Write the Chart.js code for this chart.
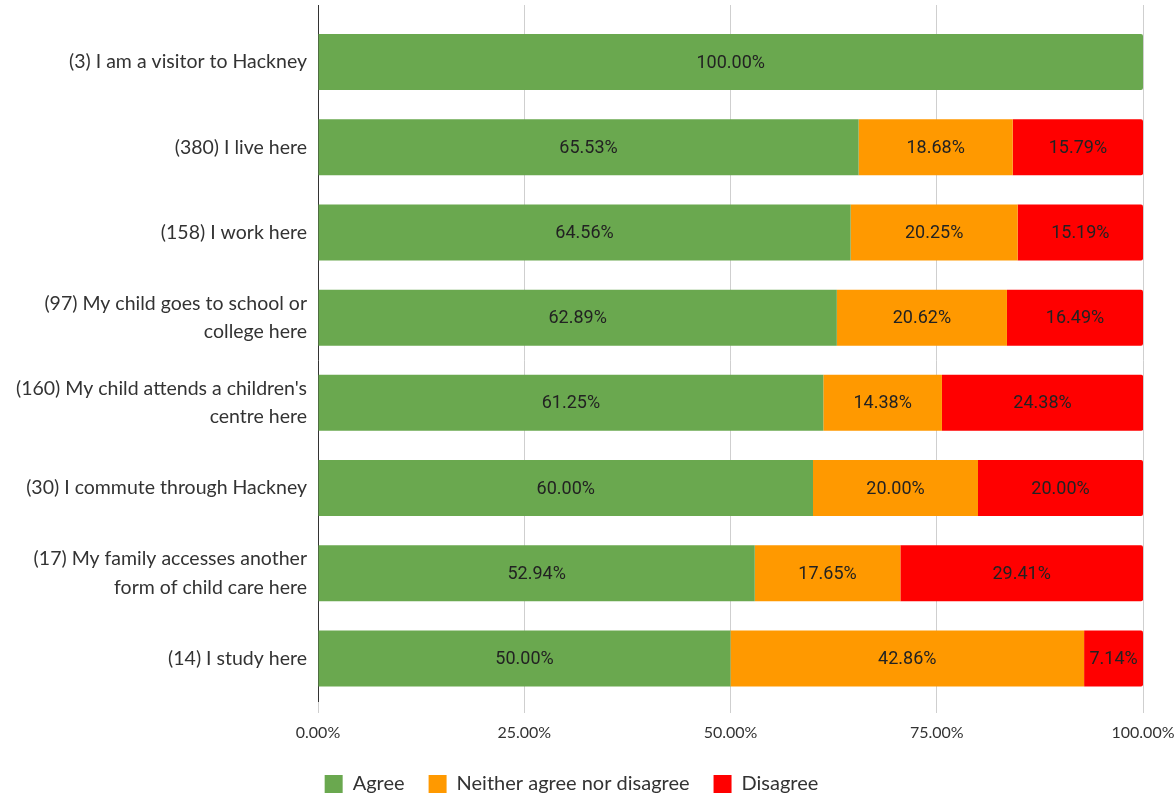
<!DOCTYPE html>
<html>
<head>
<meta charset="utf-8">
<script src="https://cdn.jsdelivr.net/npm/chart.js@4.4.1/dist/chart.umd.min.js"></script>
<style>
  html, body { margin: 0; padding: 0; background: #fff; }
  #wrap { width: 1175px; height: 795px; }
</style>
</head>
<body>
<div id="wrap"><canvas id="chart" width="1175" height="795"></canvas></div>
<script>
// --- DATA ---
const categories = [
  '(3) I am a visitor to Hackney',
  '(380) I live here',
  '(158) I work here',
  ['(97) My child goes to school or', 'college here'],
  ["(160) My child attends a children's", 'centre here'],
  '(30) I commute through Hackney',
  ['(17) My family accesses another', 'form of child care here'],
  '(14) I study here'
];
const agree    = [100.00, 65.53, 64.56, 62.89, 61.25, 60.00, 52.94, 50.00];
const neither  = [null,   18.68, 20.25, 20.62, 14.38, 20.00, 17.65, 42.86];
const disagree = [null,   15.79, 15.19, 16.49, 24.38, 20.00, 29.41, 7.14];
const xTicks = [0, 25, 50, 75, 100];

const GRID = '#cfcfcf';
const AXIS = '#333333';

// value text centred in each bar segment
const barLabels = {
  id: 'barLabels',
  afterDatasetsDraw(chart) {
    const ctx = chart.ctx;
    ctx.save();
    ctx.font = '18px Roboto';
    ctx.fillStyle = '#222';
    ctx.textAlign = 'center';
    ctx.textBaseline = 'middle';
    chart.data.datasets.forEach((ds, i) => {
      chart.getDatasetMeta(i).data.forEach((bar, j) => {
        const v = ds.data[j];
        if (v == null) return;
        ctx.fillText(v.toFixed(2) + '%', (bar.x + bar.base) / 2, bar.y + 1);
      });
    });
    ctx.restore();
  }
};

// grid and axis lines run up past the first band
const gridTop = {
  id: 'gridTop',
  beforeDatasetsDraw(chart) {
    const ctx = chart.ctx, x = chart.scales.x, top = chart.chartArea.top;
    ctx.save();
    ctx.lineWidth = 1;
    xTicks.forEach(t => {
      const px = Math.round(x.getPixelForValue(t) - 0.5) + 0.5;
      ctx.strokeStyle = t === 0 ? AXIS : GRID;
      ctx.beginPath();
      ctx.moveTo(px, 5);
      ctx.lineTo(px, top + 1);
      ctx.stroke();
    });
    ctx.restore();
  }
};

const seg = (label, data, color) => ({
  label, data,
  backgroundColor: color,
  borderRadius: 2,
  borderSkipped: 'start',
  categoryPercentage: 1,
  barPercentage: 0.657
});

new Chart(document.getElementById('chart'), {
  type: 'bar',
  data: {
    labels: categories,
    datasets: [
      seg('Agree', agree, '#6aa84f'),
      seg('Neither agree nor disagree', neither, '#ff9900'),
      seg('Disagree', disagree, '#ff0000')
    ]
  },
  options: {
    indexAxis: 'y',
    responsive: false,
    animation: false,
    devicePixelRatio: 1,
    layout: { padding: { top: 19.5, right: 32, bottom: -9, left: 0 } },
    plugins: {
      legend: {
        position: 'bottom',
        labels: {
          boxWidth: 18, boxHeight: 18, padding: 24,
          color: '#333',
          font: { family: 'Lato', size: 20 }
        }
      },
      tooltip: { enabled: false }
    },
    scales: {
      x: {
        stacked: true,
        min: 0, max: 100,
        afterBuildTicks: s => { s.ticks = xTicks.map(v => ({ value: v })); },
        afterFit: s => { s.height = 49; s.paddingLeft = 0; s.paddingRight = 0; },
        ticks: {
          color: '#333', padding: 10,
          font: { family: 'Lato', size: 16 },
          callback: v => v.toFixed(2) + '%'
        },
        grid: { color: GRID, tickLength: 12 },
        border: { display: false }
      },
      y: {
        stacked: true,
        afterFit: s => { s.width = 318; s.paddingTop = 0; s.paddingBottom = 0; },
        ticks: {
          color: '#333', padding: 3,
          font: { family: 'Lato', size: 19.5, lineHeight: 1.45 }
        },
        grid: { display: false },
        border: { display: true, color: AXIS, width: 1 }
      }
    }
  },
  plugins: [gridTop, barLabels]
});
</script>
</body>
</html>
